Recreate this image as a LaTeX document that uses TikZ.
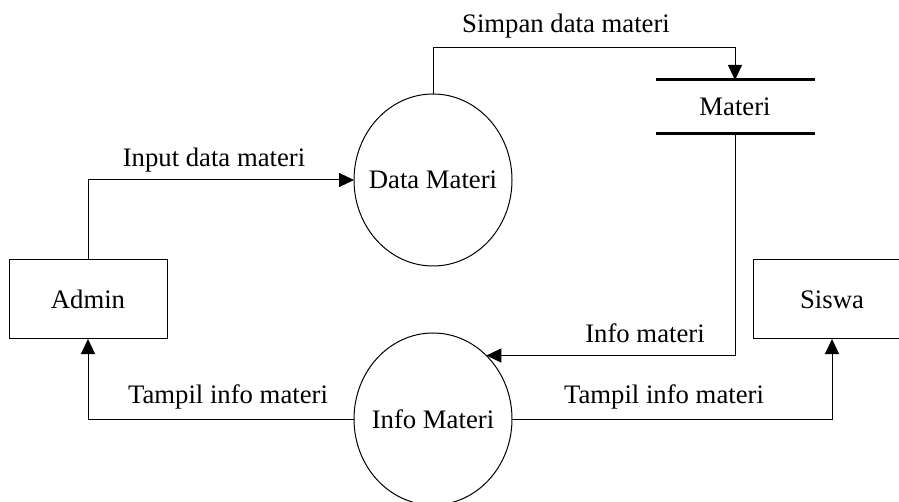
\documentclass[tikz,border=0pt]{standalone}
\usepackage{fontspec}
\setmainfont{Liberation Serif}
\usetikzlibrary{shapes.geometric,arrows.meta}

\tikzset{
  every node/.style={font=\fontsize{26.7pt}{32pt}\selectfont, outer sep=0pt},
  entity/.style={draw, line width=1pt, minimum width=158pt, minimum height=79pt, inner sep=0pt},
  process/.style={draw, ellipse, line width=1pt, minimum width=158pt, minimum height=172pt, inner sep=0pt},
  store/.style={minimum width=159pt, minimum height=54pt, inner sep=0pt},
  storeline/.style={line width=3pt},
  flow/.style={line width=1pt, -{Triangle[length=15pt,width=14pt]}},
  flowlabel/.style={anchor=base, inner sep=0pt},
}

\begin{document}
\begin{tikzpicture}[x=1pt, y=-1pt]
  \useasboundingbox (0,0) rectangle (899,502);
  \clip (0,0) rectangle (899,502);

  % external entities
  \node[entity] (admin) at (88,299.5) {Admin};
  \node[entity] (siswa) at (832,299.5) {Siswa};

  % processes
  \node[process, label={center:Data Materi}] (dm) at (433,180) {};
  \node[process, label={center:Info Materi}] (im) at (433,419) {};

  % data store
  \node[store] (materi) at (735,107) {Materi};
  \draw[storeline] (656,80) -- (815,80);
  \draw[storeline] (656,134) -- (815,134);

  % bend points
  \coordinate (up) at (735,48);

  % data flows
  \draw[flow] (admin.north) |- (dm.west);
  \draw[flow] (dm.north) |- (up) -- (materi.north);
  \draw[flow] (materi.south) |- (im.50.4);
  \draw[flow] (im.west) -| (admin.south);
  \draw[flow] (im.east) -| (siswa.south);

  % flow labels
  \node[flowlabel] (l1) at (214,167) {Input data materi};
  \node[flowlabel] (l2) at (566,33) {Simpan data materi};
  \node[flowlabel] (l3) at (645,343) {Info materi};
  \node[flowlabel] (l4) at (228,403) {Tampil info materi};
  \node[flowlabel] (l5) at (664,403) {Tampil info materi};
\end{tikzpicture}
\end{document}
